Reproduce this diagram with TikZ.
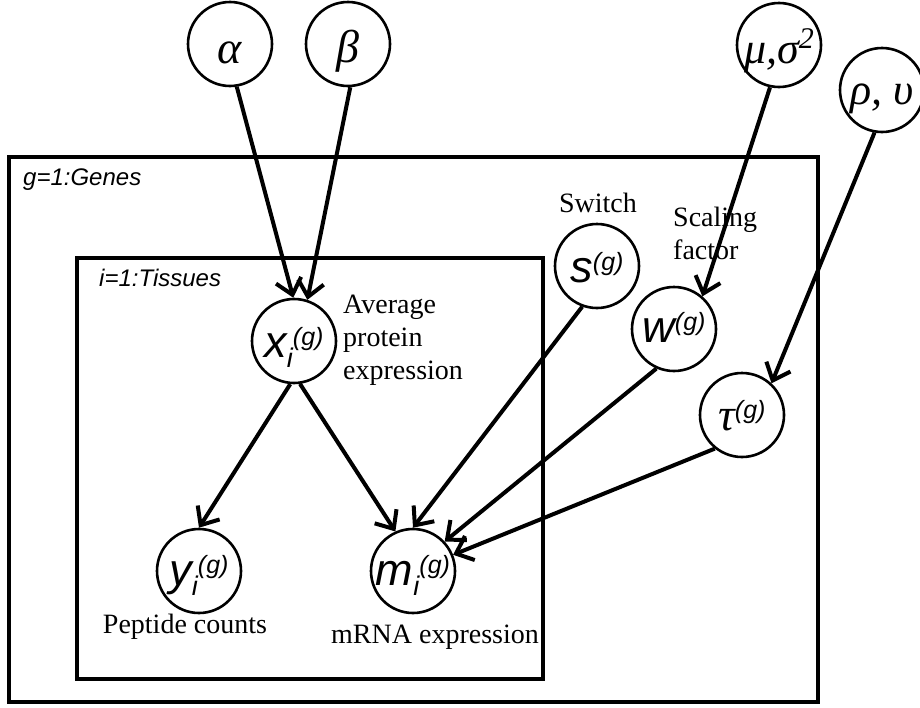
\documentclass[tikz,border=0pt]{standalone}
\usepackage{fontspec}
\setmainfont{Liberation Serif}
\newfontfamily\arialf{Liberation Sans}
\usetikzlibrary{arrows.meta}
\newcommand\lowr[2]{\raisebox{-#1pt}[0pt][0pt]{#2}}
\newcommand\ivar[3]{{\arialf\itshape\fontsize{45}{45}\selectfont #1}{\arialf\itshape\raisebox{-10pt}{\fontsize{27}{27}\selectfont #2}\raisebox{12pt}{\fontsize{25}{25}\selectfont #3}}}
\newcommand\gsup{{\arialf\itshape\raisebox{12pt}{\fontsize{25}{25}\selectfont (g)}}}
\begin{document}
\begin{tikzpicture}[x=1pt,y=-1pt,
  var/.style={circle,draw,line width=2.6pt,minimum size=84pt,inner sep=0pt},
  greek/.style={font=\itshape\fontsize{46}{46}\selectfont},
  edge/.style={line width=4pt,-{Straight Barb[length=15pt,width=26pt]}},
  plate/.style={draw,line width=4pt},
  ann/.style={font=\fontsize{28}{33}\selectfont,inner sep=0pt},
  platelab/.style={font=\arialf\itshape\fontsize{24}{24}\selectfont,inner sep=0pt,anchor=west}]
\useasboundingbox (0,0) rectangle (920,707);
\fill[white] (0,0) rectangle (920,707);
% plates
\draw[plate] (9,157) rectangle (818,702);
\draw[plate] (77,258) rectangle (543,679);
\node[platelab] (glab) at (23,180) {g=1:Genes};
\node[platelab] (ilab) at (99,278) {i=1:Tissues};
% hyperparameters
\node[var,greek] (alpha) at (230,44) {\lowr{19}{α}};
\node[var,greek] (beta) at (348,44) {\lowr{18}{β}};
\node[var] (mu) at (779,45) {\lowr{18}{\itshape\fontsize{44}{44}\selectfont μ,σ\raisebox{15pt}{\fontsize{30}{30}\selectfont 2}}};
\node[var] (rho) at (882,90) {\lowr{14}{\itshape\fontsize{44}{44}\selectfont ρ, υ}};
% variables
\node[var] (x) at (294,341) {\lowr{16}{\ivar{x}{i}{(g)}}};
\node[var] (s) at (597,266) {\lowr{16}{\ivar{s}{}{(g)}}};
\node[var] (w) at (674,329) {\lowr{13}{\ivar{w}{}{(g)}}};
\node[var] (tau) at (742,415) {\lowr{15}{{\itshape\fontsize{46}{46}\selectfont τ}\gsup}};
\node[var] (yy) at (199,571) {\lowr{14}{\ivar{y}{i}{(g)}}};
\node[var] (m) at (413,571) {\lowr{14}{\ivar{m}{i}{(g)}}};
% annotations
\node[ann,align=left,anchor=west] (avg) at (343,340) {Average\\protein\\expression};
\node[ann] (sw) at (598,203) {Switch};
\node[ann,align=left,anchor=west] (sc) at (673,233) {Scaling\\factor};
\node[ann] (pc) at (185,627) {Peptide counts};
\node[ann] (mr) at (435,637) {mRNA expression};
% edges
\draw[edge] (alpha.-81) -- (x.91);
\draw[edge] (beta.-87) -- (x.72);
\draw[edge] (mu.-102) -- (w.49);
\draw[edge] (rho.-100) -- (tau.47);
\draw[edge] (x.-95) -- (yy.90);
\draw[edge] (x.-82) -- (m.114);
\draw[edge] (s.-110) -- (m.90);
\draw[edge] (w.-114) -- (m.43);
\draw[edge] (tau.-129) -- (m.22);
\end{tikzpicture}
\end{document}
